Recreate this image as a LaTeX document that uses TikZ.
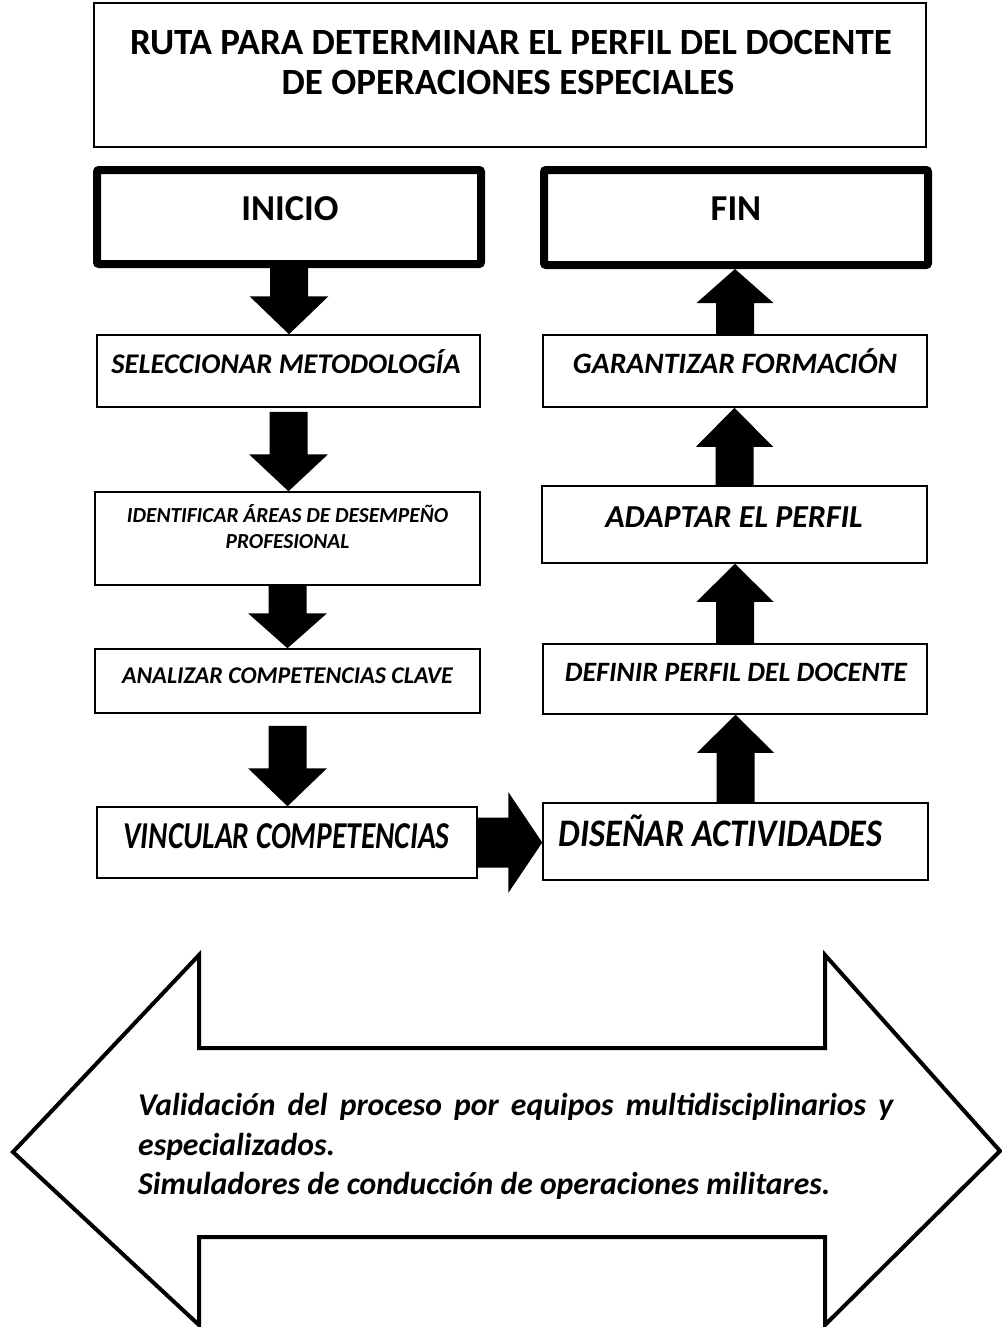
\documentclass[tikz,border=0pt]{standalone}
\usepackage{fontspec}
\setmainfont{Carlito}
\usetikzlibrary{calc}
\newcommand{\blkdown}[4]{%
  \fill let \p1=(#1.south), \p2=(#2.north) in
   (\x1-19pt,\y1-#3) -- (\x1+19pt,\y1-#3) -- (\x1+19pt,\y2+#4) -- (\x1+39.5pt,\y2+#4)
   -- (\x1,\y2) -- (\x1-39.5pt,\y2+#4) -- (\x1-19pt,\y2+#4) -- cycle;}
\newcommand{\blkup}[3]{%
  \fill let \p1=(#1.north), \p2=(#2.south) in
   (\x1-19pt,\y1) -- (\x1+19pt,\y1) -- (\x1+19pt,\y2-#3) -- (\x1+38.5pt,\y2-#3)
   -- (\x1,\y2) -- (\x1-38.5pt,\y2-#3) -- (\x1-19pt,\y2-#3) -- cycle;}
\newcommand{\fsz}[1]{\fontsize{#1}{#1}\selectfont}
\tikzset{
  thinbox/.style={draw=black, line width=1.5pt, fill=white, inner sep=0pt},
  thickbox/.style={draw=black, line width=8pt, fill=white, inner sep=0pt, rounded corners=2pt},
  lbl/.style={anchor=base, inner sep=0pt, font=\bfseries\itshape},
  hdr/.style={anchor=base, inner sep=0pt, font=\bfseries},
}
\begin{document}
\begin{tikzpicture}[x=1pt,y=-1pt]
\useasboundingbox (0,0) rectangle (1001,1327);
\fill[white] (0,0) rectangle (1001,1327);
% title
\node[thinbox, minimum width=832pt, minimum height=144pt] (title) at (510,75) {};
\node[hdr] (title1) at (511,55) {\fsz{37}RUTA PARA DETERMINAR EL PERFIL DEL DOCENTE};
\node[hdr] (title2) at (508,95) {\fsz{37}DE OPERACIONES ESPECIALES};
% start / end
\node[thickbox, minimum width=384pt, minimum height=94pt] (inicio) at (289,217) {};
\node[hdr] (tinicio) at (290,220) {\fsz{36.5}INICIO};
\node[thickbox, minimum width=384pt, minimum height=95pt] (fin) at (736,217.5) {};
\node[hdr] (tfin) at (736,220) {\fsz{36.5}FIN};
% left column
\node[thinbox, minimum width=383pt, minimum height=72pt] (sel) at (288.5,371) {};
\node[lbl] (tsel) at (286,373) {\fsz{28.5}SELECCIONAR METODOLOGÍA};
\node[thinbox, minimum width=385pt, minimum height=93pt] (ide) at (287.5,538.5) {};
\node[lbl] (tide1) at (287.5,522) {\fsz{21.4}IDENTIFICAR ÁREAS DE DESEMPEÑO};
\node[lbl] (tide2) at (287.5,548) {\fsz{21.4}PROFESIONAL};
\node[thinbox, minimum width=385pt, minimum height=64pt] (ana) at (287.5,681) {};
\node[lbl] (tana) at (287.5,683) {\fsz{24}ANALIZAR COMPETENCIAS CLAVE};
\node[thinbox, minimum width=380pt, minimum height=71pt] (vin) at (287,842.5) {};
\node[lbl] (tvin) at (286.5,848) {\scalebox{0.775}[1]{\fsz{38}VINCULAR COMPETENCIAS}};
% right column
\node[thinbox, minimum width=384pt, minimum height=72pt] (gar) at (735,371) {};
\node[lbl] (tgar) at (735,373) {\fsz{29.6}GARANTIZAR FORMACIÓN};
\node[thinbox, minimum width=385pt, minimum height=77pt] (ada) at (734.5,524.5) {};
\node[lbl] (tada) at (734,527) {\fsz{32}ADAPTAR EL PERFIL};
\node[thinbox, minimum width=384pt, minimum height=70pt] (def) at (735,679) {};
\node[lbl] (tdef) at (736,681) {\fsz{28}DEFINIR PERFIL DEL DOCENTE};
\node[thinbox, minimum width=385pt, minimum height=77pt] (dis) at (735.5,841.5) {};
\node[lbl] (tdis) at (720.5,846) {\scalebox{0.88}[1]{\fsz{39}DISEÑAR ACTIVIDADES}};
% block arrows
\blkdown{inicio}{sel}{0pt}{38pt}
\blkdown{sel}{ide}{4pt}{37pt}
\blkdown{ide}{ana}{0pt}{35pt}
\blkdown{ana}{vin}{12pt}{38pt}
\fill let \p1=(vin.east), \p2=(dis.west) in
  (\x1,\y1+25pt) -- (\x2-34pt,\y1+25pt) -- (\x2-34pt,\y1+50.5pt) -- (\x2,\y1)
  -- (\x2-34pt,\y1-50.5pt) -- (\x2-34pt,\y1-25pt) -- (\x1,\y1-25pt) -- cycle;
\blkup{dis}{def}{38pt}
\blkup{def}{ada}{38pt}
\blkup{ada}{gar}{39pt}
\blkup{gar}{fin}{34pt}
% big double arrow
\draw[line width=4pt, miter limit=20] (13,1152) -- (199,955) -- (199,1048) -- (825,1048) -- (825,955)
  -- (1000,1151) -- (825,1325) -- (825,1237) -- (199,1237) -- (199,1325) -- cycle;
\node[lbl, anchor=base west] (big1) at (138,1115) {\fsz{31.7}\makebox[755pt][s]{Validación del proceso por equipos multidisciplinarios y}};
\node[lbl, anchor=base west] (big2) at (138,1155) {\fsz{31.7}especializados.};
\node[lbl, anchor=base west] (big3) at (138,1194) {\fsz{31.7}Simuladores de conducción de operaciones militares.};
\end{tikzpicture}
\end{document}
